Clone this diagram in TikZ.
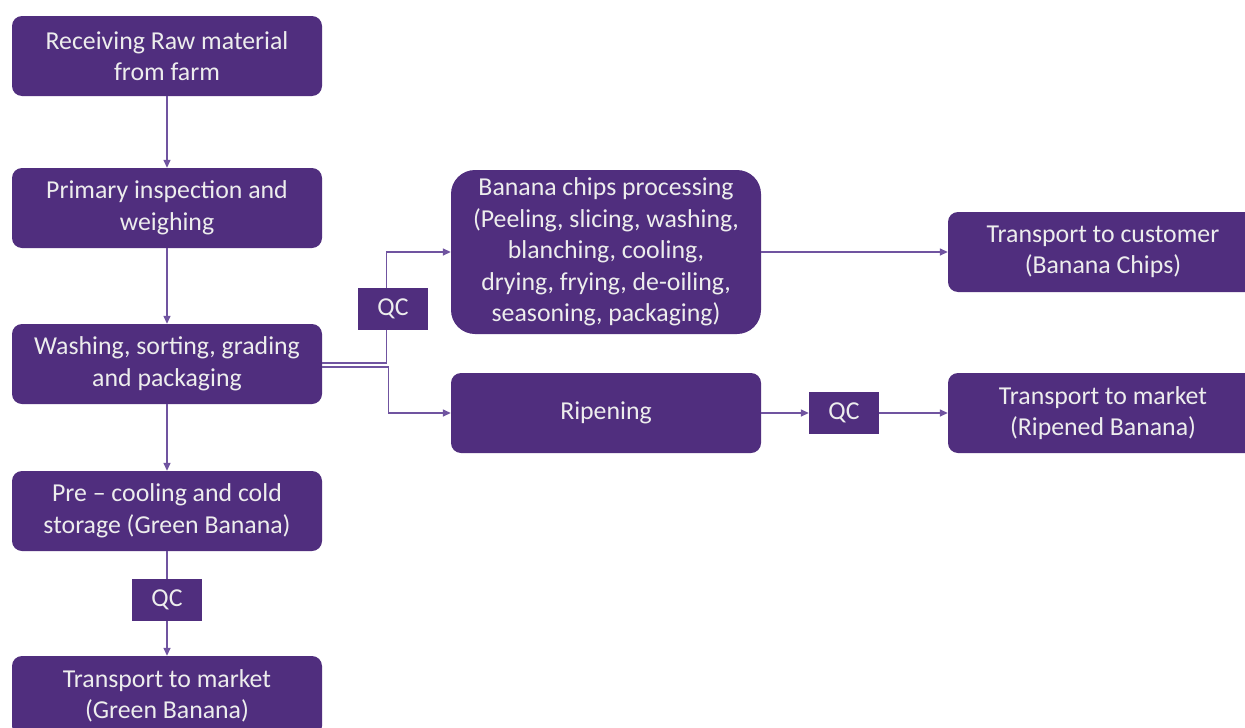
\documentclass[tikz,border=0pt]{standalone}
\usepackage{fontspec}
\setmainfont{Carlito}
\usetikzlibrary{arrows.meta}
\definecolor{boxpurple}{RGB}{80,46,126}
\definecolor{linepurple}{RGB}{112,84,160}
\tikzset{
  box/.style={fill=boxpurple, rounded corners=10pt, minimum width=310pt, minimum height=80pt,
    inner sep=0pt, align=center, text=white!93!black, font=\fontsize{25.8}{31.5}\selectfont},
  qcbox/.style={fill=boxpurple, minimum width=70pt, minimum height=42pt, inner sep=0pt,
    text=white!93!black, font=\fontsize{25.8}{31.5}\selectfont},
  conn/.style={draw=linepurple, line width=1.4pt},
  arr/.style={conn, -{Triangle[length=8pt,width=7pt]}}
}
\begin{document}
\begin{tikzpicture}[x=1pt,y=-1pt]
\useasboundingbox (0,0) rectangle (1245,728);
\clip (0,0) rectangle (1245,728);
\fill[white] (0,0) rectangle (1245,728);
\node[box] (recv) at (167,56) {Receiving Raw material\\from farm};
\node[box] (prim) at (167,208) {Primary inspection and\\weighing};
\node[box] (wash) at (167,364) {Washing, sorting, grading\\and packaging};
\node[box] (cool) at (167,511) {Pre -- cooling and cold\\storage (Green Banana)};
\node[qcbox] (qc1) at (167,600) {QC};
\node[box] (green) at (167,696) {Transport to market\\(Green Banana)};
\node[box, minimum height=164pt, rounded corners=24pt] (chips) at (606,252) {Banana chips processing\\(Peeling, slicing, washing,\\blanching, cooling,\\drying, frying, de-oiling,\\seasoning, packaging)};
\node[box] (ripe) at (606,413) {Ripening};
\node[qcbox] (qc3) at (844,413) {QC};
\node[box] (cust) at (1103,252) {Transport to customer\\(Banana Chips)};
\node[box] (mkt) at (1103,413) {Transport to market\\(Ripened Banana)};
\draw[arr] (recv) -- (prim);
\draw[arr] (prim) -- (wash);
\draw[arr] (wash) -- (cool);
\draw[conn] (cool) -- (qc1);
\draw[arr] (qc1) -- (green);
\draw[arr] ([yshift=1pt]wash.east) -- ++(64,0) |- (chips.west);
\draw[arr] ([yshift=-3pt]wash.east) -- ++(66,0) |- (ripe.west);
\draw[arr] (chips.east) -- (cust.west);
\draw[arr] (ripe.east) -- (qc3.west);
\draw[arr] (qc3.east) -- (mkt.west);
\node[qcbox] (qc2) at (393,309) {QC};
\end{tikzpicture}
\end{document}
